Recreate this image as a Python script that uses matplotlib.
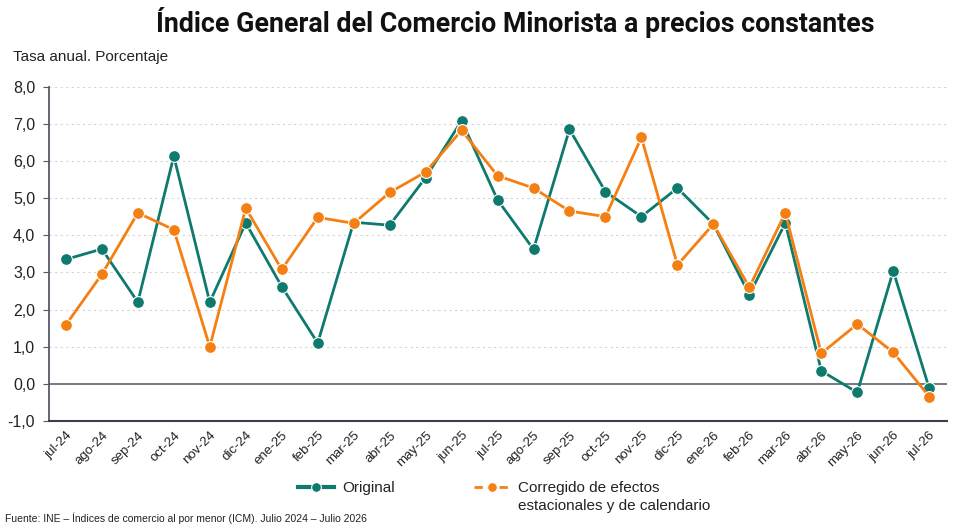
import matplotlib

matplotlib.use("Agg")
import matplotlib.pyplot as plt
from matplotlib.lines import Line2D
from matplotlib.ticker import FuncFormatter, MultipleLocator

months = [
    "jul-24", "ago-24", "sep-24", "oct-24", "nov-24", "dic-24", "ene-25",
    "feb-25", "mar-25", "abr-25", "may-25", "jun-25", "jul-25", "ago-25",
    "sep-25", "oct-25", "nov-25", "dic-25", "ene-26", "feb-26", "mar-26",
    "abr-26", "may-26", "jun-26", "jul-26",
]
original = [
    3.35, 3.63, 2.20, 6.13, 2.20, 4.33, 2.62, 1.10, 4.35, 4.27, 5.55, 7.08,
    4.95, 3.62, 6.85, 5.17, 4.50, 5.27, 4.30, 2.40, 4.33, 0.35, -0.23, 3.04,
    -0.12,
]
corregido = [
    1.59, 2.95, 4.60, 4.15, 1.00, 4.73, 3.08, 4.48, 4.32, 5.15, 5.70, 6.82,
    5.60, 5.27, 4.65, 4.50, 6.63, 3.20, 4.30, 2.60, 4.60, 0.82, 1.61, 0.85,
    -0.34,
]

TEAL = "#0e7a6d"
ORANGE = "#f47f12"
TEXT = "#222222"

plt.rcParams["font.family"] = ["Liberation Sans", "DejaVu Sans"]

fig = plt.figure(figsize=(9.7, 5.31), dpi=100)
ax = fig.add_axes([0.0505, 0.207, 0.926, 0.63])

x = list(range(len(months)))
ax.plot(x, original, "-", color=TEAL, linewidth=2.0, marker="o",
        markersize=8.5, markeredgecolor="white", markeredgewidth=0.8, zorder=3)
ax.plot(x, corregido, "-", color=ORANGE, linewidth=2.0, marker="o",
        markersize=8.5, markeredgecolor="white", markeredgewidth=0.8, zorder=4)

ax.axhline(0, color="#6b6f7a", linewidth=1.3, zorder=2)

ax.set_xlim(-0.47, 24.5)
ax.set_ylim(-1.0, 8.0)
ax.yaxis.set_major_locator(MultipleLocator(1.0))
ax.yaxis.set_major_formatter(FuncFormatter(lambda v, _: f"{v:.1f}".replace(".", ",")))
ax.grid(axis="y", color="#d4d4d4", linestyle=(0, (2, 3)), linewidth=0.8)
ax.set_axisbelow(True)

ax.set_xticks(x)
ax.set_xticklabels(months, rotation=45, ha="right", rotation_mode="anchor",
                   fontsize=9.5, color=TEXT)
ax.tick_params(axis="x", length=0, pad=6)
ax.tick_params(axis="y", length=4, color="#555a66", labelsize=11.5,
               labelcolor=TEXT, pad=6)

for side in ("top", "right"):
    ax.spines[side].set_visible(False)
ax.spines["left"].set_color("#555a66")
ax.spines["left"].set_linewidth(1.3)
ax.spines["bottom"].set_color("#3a3f52")
ax.spines["bottom"].set_linewidth(1.5)

# legend: first line in the legend, second line of the orange label added below
handles = [
    Line2D([], [], color=TEAL, linewidth=3.0, marker="o", markersize=7,
           markeredgecolor="white", markeredgewidth=0.8),
    Line2D([], [], color=ORANGE, linestyle=(0, (3, 1.5)), linewidth=2.0,
           marker="o", markersize=7, markeredgecolor="white", markeredgewidth=0.8),
]
labels = ["Original", "Corregido de efectos"]
leg = fig.legend(handles, labels, ncol=2, loc="center left",
                 bbox_to_anchor=(0.307, 0.081), frameon=False, fontsize=11,
                 borderpad=0, borderaxespad=0, handlelength=2.4,
                 columnspacing=5.2, handletextpad=0.5, labelcolor=TEXT)

fig.canvas.draw()
bb = leg.get_texts()[1].get_window_extent()
fig.text(bb.x0 / fig.bbox.width, (bb.y0 - 4) / fig.bbox.height,
         "estacionales y de calendario", ha="left", va="top",
         fontsize=11, color=TEXT)

fig.text(0.531, 0.958, "Índice General del Comercio Minorista a precios constantes",
         ha="center", va="center", fontsize=19.3, fontweight="bold",
         family="Roboto", color="#111111")
fig.text(0.013, 0.893, "Tasa anual. Porcentaje", ha="left", va="center",
         fontsize=11, color=TEXT)
fig.text(0.005, 0.024,
         "Fuente: INE – Índices de comercio al por menor (ICM). Julio 2024 – Julio 2026",
         ha="left", va="center", fontsize=7.5, color=TEXT)

fig.savefig("out.png", dpi=100)
plt.close(fig)
